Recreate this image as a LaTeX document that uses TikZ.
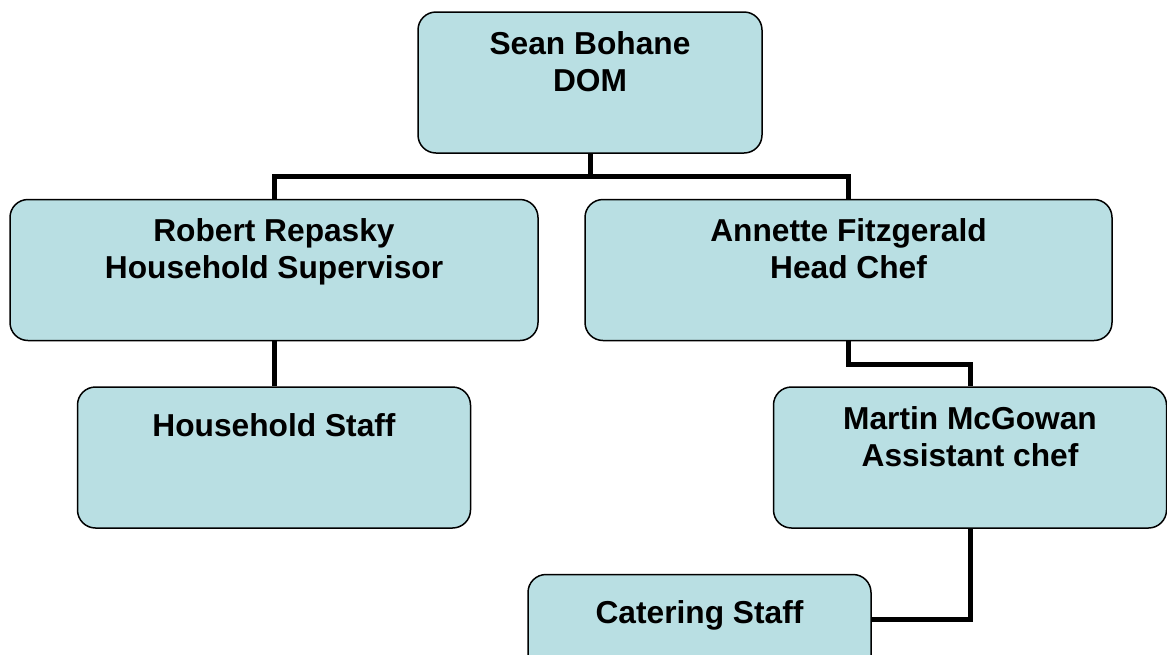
\documentclass[tikz,border=0pt]{standalone}
\usepackage{fontspec}
\setmainfont{Liberation Sans}
\usepackage{tikz}
\usetikzlibrary{positioning}
\definecolor{boxblue}{RGB}{185,223,227}

\begin{document}
\begin{tikzpicture}[
    x=1pt, y=1pt,
    node distance=45pt,
    box/.style={
        rectangle,
        rounded corners=18pt,
        draw=black,
        line width=1.5pt,
        fill=boxblue,
        minimum height=141pt,
        inner sep=0pt
    },
    boxtext/.style={
        anchor=north,
        yshift=-20pt,
        align=center,
        inner sep=0pt,
        font=\fontsize{31.7}{37}\selectfont\bfseries,
        execute at begin node=\rule{0pt}{30pt}
    },
    link/.style={line width=5pt}
]
\useasboundingbox (0,0) rectangle (1167,-654);
\clip (0,0) rectangle (1167,-654);

\node[box, minimum width=344pt, label={[boxtext]above:Sean Bohane\\DOM}] (dom) at (590,-82.5) {};

\node[box, minimum width=528pt, below=45pt of dom, xshift=-316pt,
      label={[boxtext]above:Robert Repasky\\Household Supervisor}] (super) {};
\node[box, minimum width=527pt, below=45pt of dom, xshift=258.5pt,
      label={[boxtext]above:Annette Fitzgerald\\Head Chef}] (headchef) {};

\node[box, minimum width=393pt, below=of super,
      label={[boxtext]above:Household Staff}] (housestaff) {};
\node[box, minimum width=393pt, below=of headchef, xshift=121.5pt,
      label={[boxtext]above:Martin McGowan\\Assistant chef}] (asschef) {};
\node[box, minimum width=343pt, below=of asschef, xshift=-270.5pt,
      label={[boxtext]above:Catering Staff}] (catstaff) {};

\draw[link] (dom.south) -- ++(0,-23) -| (super.north);
\draw[link] (dom.south) -- ++(0,-23) -| (headchef.north);
\draw[link] (super.south) -- (super.south |- housestaff.north);
\draw[link] (headchef.south) -- ++(0,-23) -| (asschef.north);
\draw[link] (asschef.south) |- ([yshift=-46pt]catstaff.north east);

\end{tikzpicture}
\end{document}
